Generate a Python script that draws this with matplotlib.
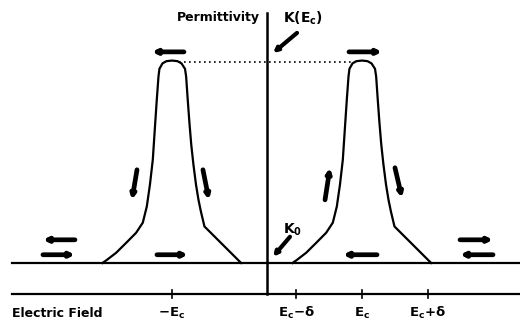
import matplotlib.pyplot as plt

# field in units of Ec, permittivity: 0 = K0, 1 = K(Ec)
Ec = 1.0
delta = 0.69
peak_centres = [-Ec, Ec]

# shape of one peak, offset from its centre
prof_dx = [-0.732, -0.689, -0.587, -0.482, -0.377, -0.307, -0.265, -0.232, -0.202, -0.181,
           -0.16, -0.142, -0.132, -0.1, -0.058, 0.0, 0.058, 0.1, 0.137, 0.149,
           0.166, 0.184, 0.203, 0.226, 0.253, 0.279, 0.305, 0.342, 0.728]
prof_k = [0.0, 0.014, 0.051, 0.10, 0.15, 0.20, 0.28, 0.388, 0.511, 0.66,
          0.808, 0.924, 0.962, 0.989, 1.0, 1.003, 1.0, 0.989, 0.962, 0.924,
          0.808, 0.693, 0.586, 0.487, 0.388, 0.313, 0.254, 0.181, 0.0]

tick_pos = [-Ec, Ec - delta, Ec, Ec + delta]
tick_labels = [r"$\mathbf{-E_c}$", r"$\mathbf{E_c\!-\!\delta}$", r"$\mathbf{E_c}$", r"$\mathbf{E_c\!+\!\delta}$"]

# direction arrows (start -> end)
arrows = [
    ((-0.874, 1.046), (-1.211, 1.046)),
    ((0.863, 1.046), (1.211, 1.046)),
    ((-1.368, 0.462), (-1.421, 0.313)),
    ((-0.674, 0.462), (-0.611, 0.313)),
    ((0.611, 0.313), (0.663, 0.472)),
    ((1.347, 0.472), (1.421, 0.323)),
    ((-1.158, 0.041), (-0.832, 0.041)),
    ((1.158, 0.041), (0.80, 0.041)),
    ((-2.021, 0.115), (-2.358, 0.115)),
    ((-2.358, 0.041), (-2.021, 0.041)),
    ((2.032, 0.115), (2.379, 0.115)),
    ((2.379, 0.041), (2.032, 0.041)),
]
pointers = [((0.316, 1.14), (0.063, 1.04)), ((0.242, 0.13), (0.063, 0.031))]

fig = plt.figure(figsize=(5.2, 3.26), dpi=100)
ax = fig.add_axes([0, 0, 1, 1])
ax.set_xlim(-2.81, 2.663)
ax.set_ylim(-0.312, 1.303)
ax.axis("off")

# axes lines
ax.plot([-2.684, 2.663], [0, 0], color="black", lw=1.6)
ax.plot([-2.684, 2.663], [-0.152, -0.152], color="black", lw=1.6)
ax.plot([0, 0], [-0.152, 1.239], color="black", lw=1.8)

for c in peak_centres:
    ax.plot([c + d for d in prof_dx], prof_k, color="black", lw=1.6, solid_joinstyle="round")

ax.plot([-Ec + 0.07, Ec - 0.07], [0.997, 0.997], color="black", lw=1.2, linestyle=(0, (1, 2)))

for p, lab in zip(tick_pos, tick_labels):
    ax.plot([p, p], [-0.132, -0.172], color="black", lw=1.2)
    ax.text(p, -0.248, lab, ha="center", va="center", fontsize=9.5)

for (x0, y0), (x1, y1) in arrows:
    ax.annotate("", xy=(x1, y1), xytext=(x0, y0),
                arrowprops=dict(arrowstyle="-|>", lw=3.4, color="black",
                                mutation_scale=6, shrinkA=0, shrinkB=0))
for (x0, y0), (x1, y1) in pointers:
    ax.annotate("", xy=(x1, y1), xytext=(x0, y0),
                arrowprops=dict(arrowstyle="-|>", lw=3.0, color="black",
                                mutation_scale=6, shrinkA=0, shrinkB=0))

ax.text(-0.07, 1.214, "Permittivity", ha="right", va="center", fontsize=9, fontweight="bold")
ax.text(0.17, 1.214, r"$\mathbf{K(E_c)}$", ha="left", va="center", fontsize=10)
ax.text(0.17, 0.165, r"$\mathbf{K_0}$", ha="left", va="center", fontsize=10)
ax.text(-2.68, -0.25, "Electric Field", ha="left", va="center", fontsize=9, fontweight="bold")

plt.savefig("out.png", dpi=100)
